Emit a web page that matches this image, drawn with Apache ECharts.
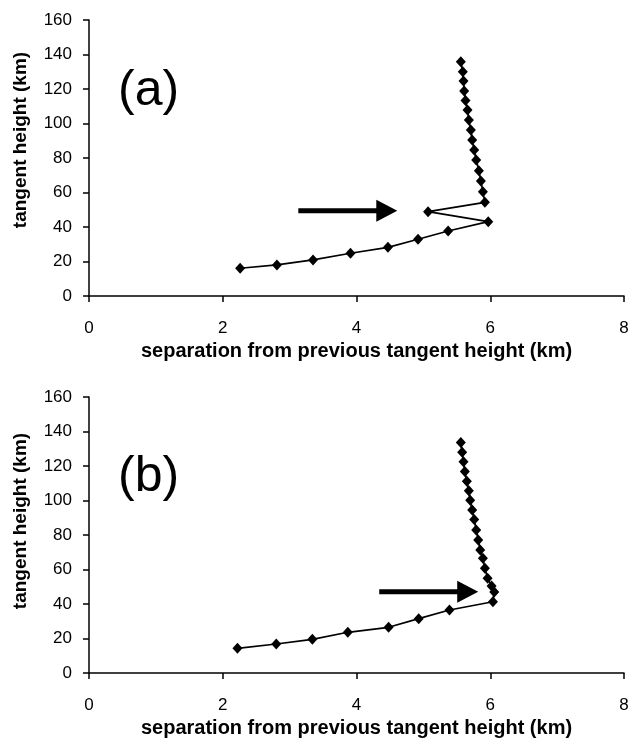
<!DOCTYPE html>
<html>
<head>
<meta charset="utf-8">
<script src="https://cdn.jsdelivr.net/npm/echarts@6/dist/echarts.min.js"></script>
<style>
  html, body { margin: 0; padding: 0; background: #fff; }
  #main { width: 632px; height: 744px; }
</style>
</head>
<body>
<div id="main"></div>
<script>
// panel (a): separation (km) vs tangent height (km), bottom to top along the line
var sepA = [2.26, 2.81, 3.35, 3.91, 4.47, 4.92, 5.37, 5.97, 5.07, 5.92,
            5.89, 5.86, 5.83, 5.79, 5.76, 5.73, 5.71, 5.68, 5.66, 5.63, 5.61, 5.60, 5.59, 5.56];
var htA  = [16.1, 18.0, 20.9, 24.8, 28.2, 32.9, 37.7, 43.1, 48.9, 54.3,
            60.5, 66.7, 72.6, 78.8, 84.6, 90.4, 96.2, 102.0, 107.8, 113.4, 118.8, 124.6, 130.0, 135.8];

// panel (b)
var sepB = [2.22, 2.80, 3.34, 3.87, 4.48, 4.93, 5.39, 6.04, 6.06, 6.02,
            5.96, 5.92, 5.89, 5.85, 5.82, 5.79, 5.76, 5.73, 5.70, 5.68, 5.65, 5.62, 5.60, 5.58, 5.56];
var htB  = [14.3, 16.8, 19.5, 23.6, 26.5, 31.5, 36.5, 41.3, 47.0, 50.5,
            54.9, 60.7, 66.5, 71.3, 77.1, 82.9, 89.0, 94.5, 100.1, 105.6, 111.2, 116.8, 122.4, 128.0, 133.6];

// arrows: [tail x, tip x, height]
var arrowA = [3.13, 4.61, 49.4];
var arrowB = [4.34, 5.82, 47.1];

var xTicks = [0, 2, 4, 6, 8];
var yTicks = [0, 20, 40, 60, 80, 100, 120, 140, 160];
var panelLabels = ['(a)', '(b)'];
var xTitle = 'separation from previous tangent height (km)';
var yTitle = 'tangent height (km)';

var FONT = '"Liberation Sans", Arial, sans-serif';

function pairs(xs, ys) {
    return xs.map(function (x, i) { return [x, ys[i]]; });
}

function makeX(gridIndex) {
    return {
        type: 'value', gridIndex: gridIndex,
        min: xTicks[0], max: xTicks[xTicks.length - 1], interval: 2,
        name: xTitle, nameLocation: 'middle', nameGap: 45,
        nameTextStyle: {fontFamily: FONT, fontWeight: 'bold', fontSize: 20, color: '#000'},
        axisLine: {lineStyle: {color: '#000', width: 1.5}},
        axisTick: {show: true, inside: false, length: 6, lineStyle: {color: '#000', width: 1.5}},
        axisLabel: {margin: 24, fontFamily: FONT, fontSize: 17, color: '#000'},
        splitLine: {show: false}
    };
}

function makeY(gridIndex) {
    return {
        type: 'value', gridIndex: gridIndex,
        min: yTicks[0], max: yTicks[yTicks.length - 1], interval: 20,
        axisLine: {show: true, lineStyle: {color: '#000', width: 1.5}},
        axisTick: {show: true, inside: false, length: 6, lineStyle: {color: '#000', width: 1.5}},
        axisLabel: {margin: 17, fontFamily: FONT, fontSize: 17, color: '#000'},
        splitLine: {show: false}
    };
}

function lineSeries(idx, xs, ys) {
    return {
        type: 'line', xAxisIndex: idx, yAxisIndex: idx,
        data: pairs(xs, ys),
        symbol: 'diamond', symbolSize: [10, 11],
        itemStyle: {color: '#000'},
        lineStyle: {color: '#000', width: 1.7},
        animation: false
    };
}

function arrowSeries(idx, arr) {
    return {
        type: 'custom', xAxisIndex: idx, yAxisIndex: idx,
        data: [arr],
        encode: {x: [0, 1], y: 2},
        renderItem: function (params, api) {
            var tail = api.coord([api.value(0), api.value(2)]);
            var tip = api.coord([api.value(1), api.value(2)]);
            var y = tip[1], hl = 21, hh = 11, sh = 2.5;
            return {
                type: 'polygon',
                shape: {points: [
                    [tail[0], y - sh], [tip[0] - hl, y - sh], [tip[0] - hl, y - hh],
                    [tip[0], y], [tip[0] - hl, y + hh], [tip[0] - hl, y + sh], [tail[0], y + sh]
                ]},
                style: {fill: '#000'}
            };
        },
        animation: false
    };
}

var chart = echarts.init(document.getElementById('main'), null, {renderer: 'canvas'});
chart.setOption({
    backgroundColor: '#fff',
    animation: false,
    grid: [
        {left: 89, top: 20, width: 535, height: 276},
        {left: 89, top: 397, width: 535, height: 276}
    ],
    xAxis: [makeX(0), makeX(1)],
    yAxis: [makeY(0), makeY(1)],
    graphic: [
        {type: 'text', left: 118, top: 66, style: {text: panelLabels[0], font: '50px ' + FONT, fill: '#000'}},
        {type: 'text', left: 118, top: 452, style: {text: panelLabels[1], font: '50px ' + FONT, fill: '#000'}},
        {type: 'text', x: 21, y: 140, rotation: Math.PI / 2,
         style: {text: yTitle, font: 'bold 19px ' + FONT, fill: '#000', align: 'center', verticalAlign: 'middle'}},
        {type: 'text', x: 21, y: 521, rotation: Math.PI / 2,
         style: {text: yTitle, font: 'bold 19px ' + FONT, fill: '#000', align: 'center', verticalAlign: 'middle'}}
    ],
    series: [
        lineSeries(0, sepA, htA),
        arrowSeries(0, arrowA),
        lineSeries(1, sepB, htB),
        arrowSeries(1, arrowB)
    ]
});
</script>
</body>
</html>
